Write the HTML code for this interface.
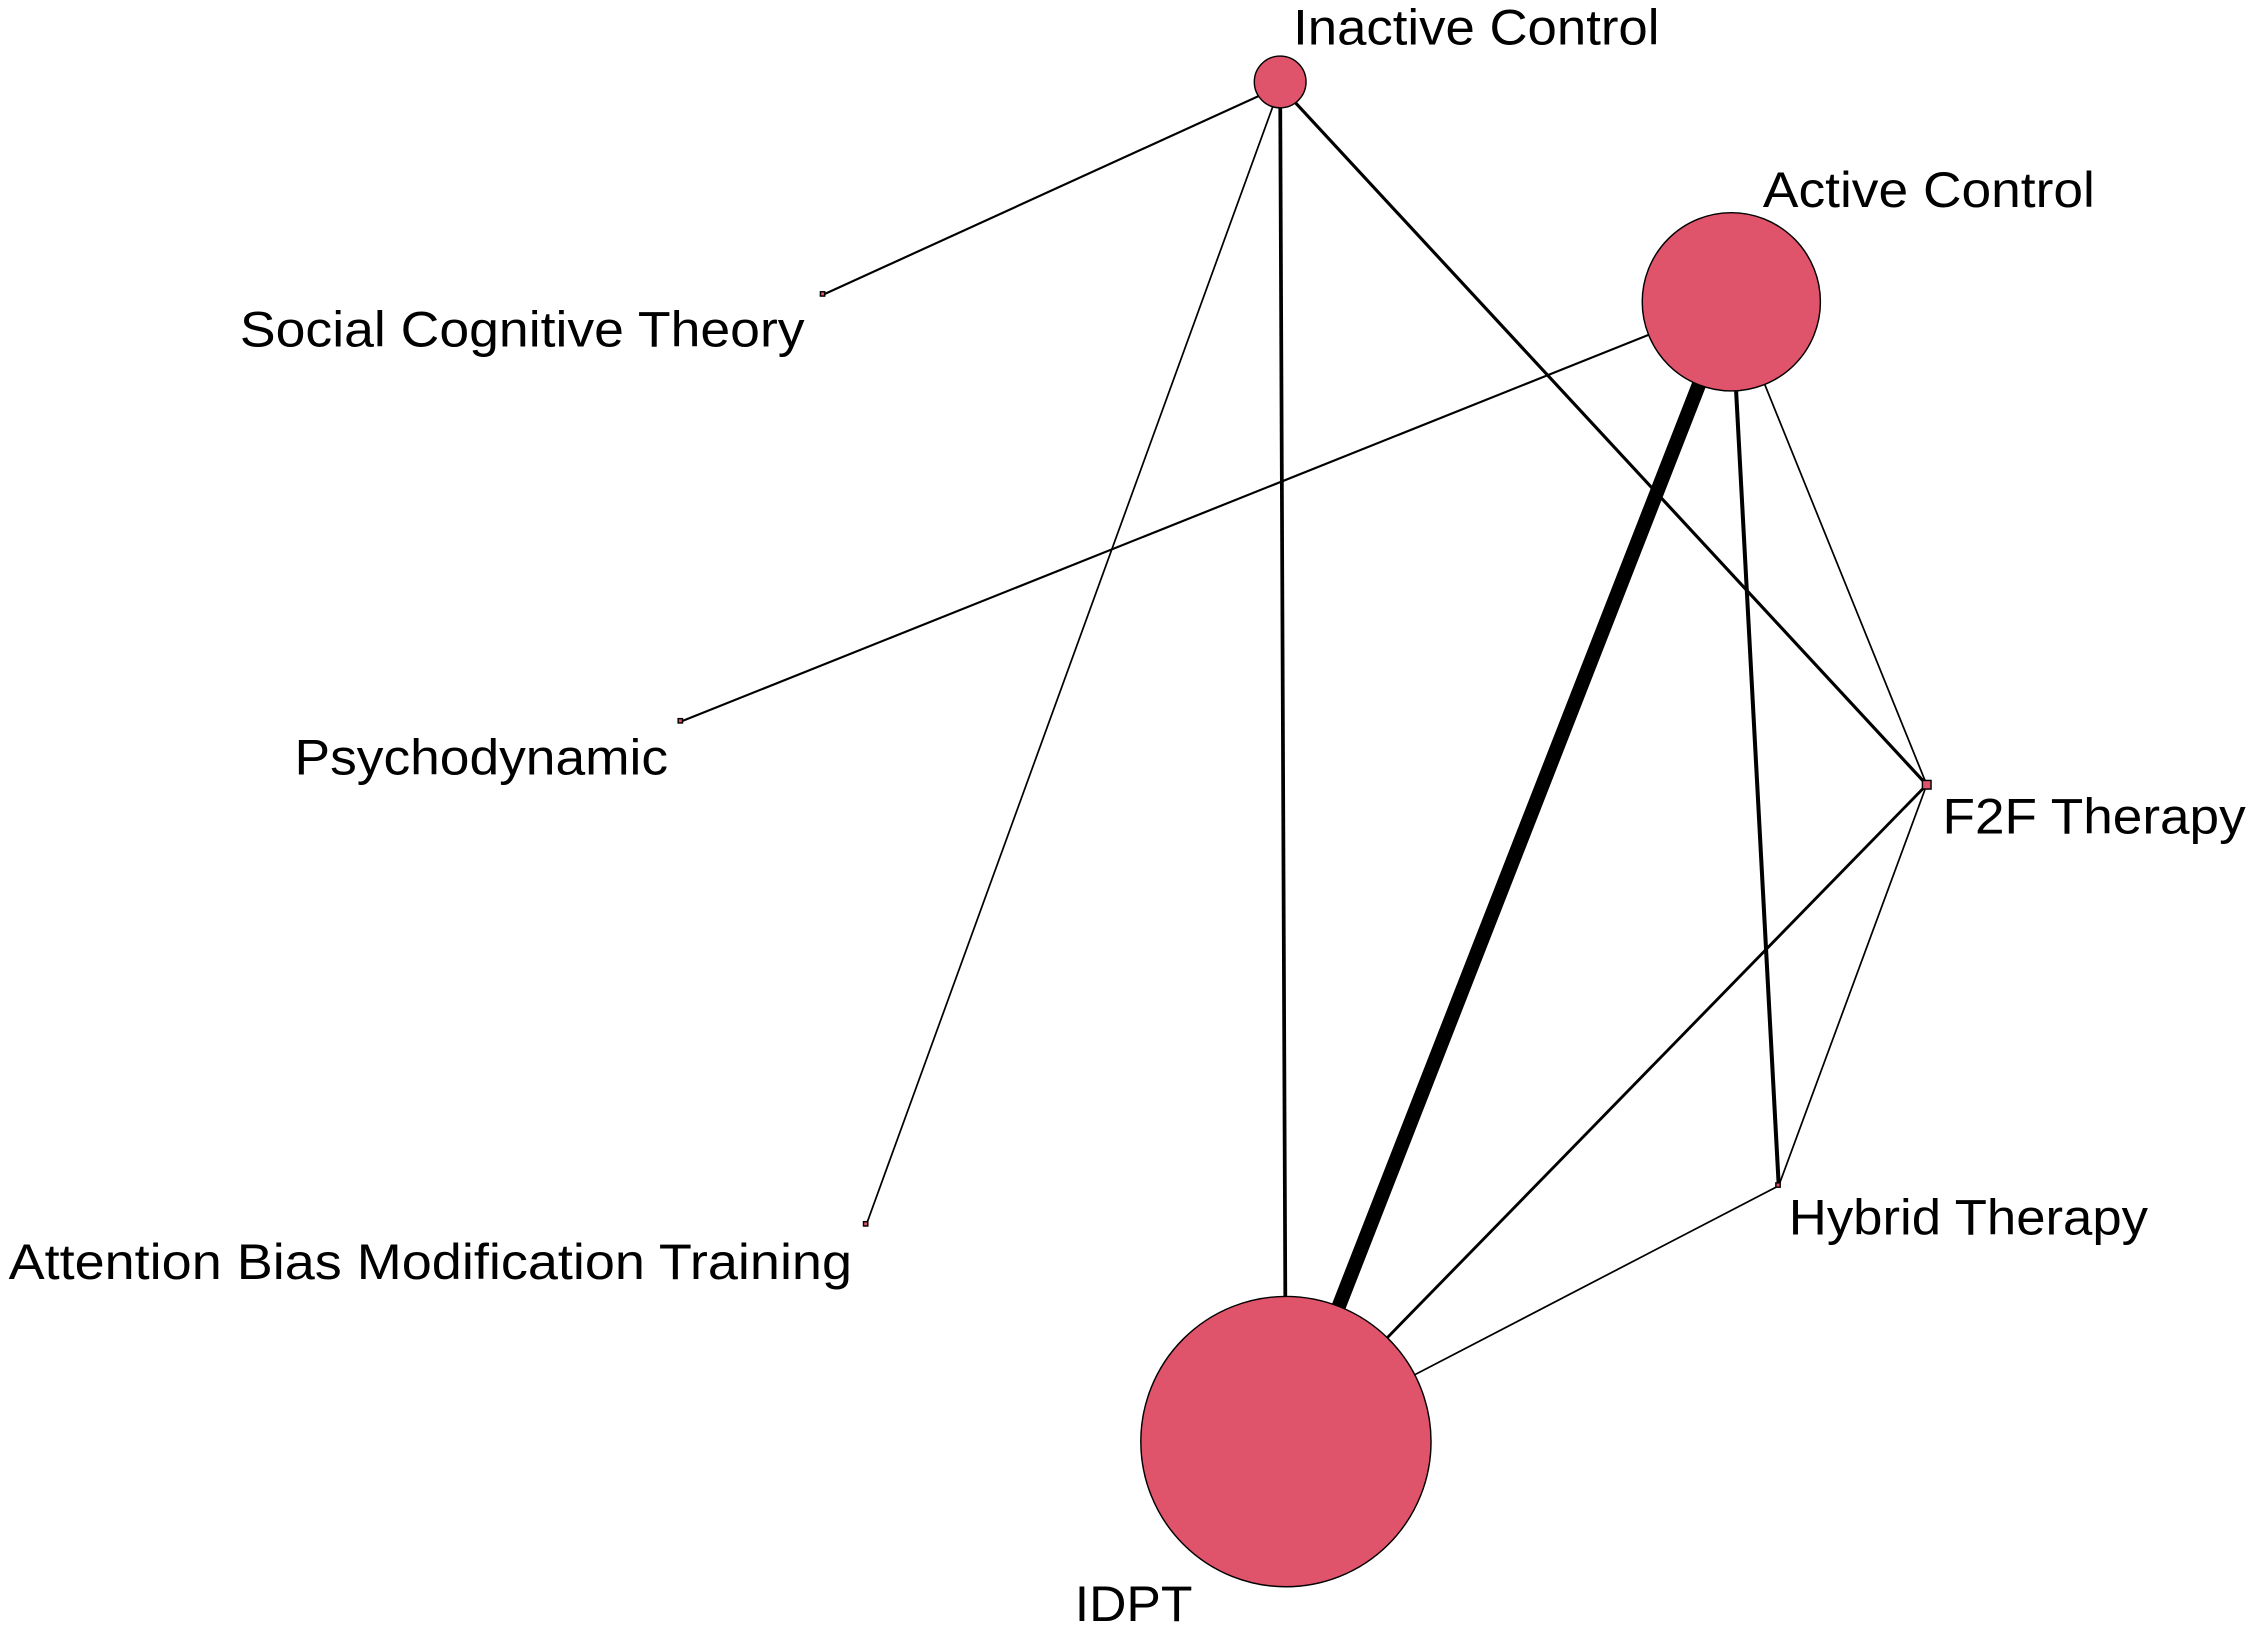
<!DOCTYPE html>
<html><head><meta charset="utf-8"><style>
html,body{margin:0;padding:0;background:#fff;}
svg{display:block;}
text{font-family:"Liberation Sans",Arial,sans-serif;font-size:35px;fill:#000;}
</style></head><body>
<svg width="2250" height="1627" viewBox="0 0 1566 1132" preserveAspectRatio="none" xmlns="http://www.w3.org/2000/svg">
<rect width="1566" height="1132" fill="#fff"/>
<g stroke="#000" stroke-linecap="butt" fill="none">
<line x1="891" y1="60" x2="573" y2="205" stroke-width="1.5"/>
<line x1="891" y1="60" x2="603" y2="852" stroke-width="1.2"/>
<line x1="891" y1="60" x2="895" y2="1003" stroke-width="2.6"/>
<line x1="891" y1="60" x2="1341" y2="546" stroke-width="2.2"/>
<line x1="1205" y1="210" x2="474" y2="502" stroke-width="1.5"/>
<line x1="1205" y1="210" x2="895" y2="1003" stroke-width="10"/>
<line x1="1205" y1="210" x2="1238" y2="825" stroke-width="2.8"/>
<line x1="1205" y1="210" x2="1341" y2="546" stroke-width="1.2"/>
<line x1="1341" y1="546" x2="895" y2="1003" stroke-width="2"/>
<line x1="1341" y1="546" x2="1238" y2="825" stroke-width="1.2"/>
<line x1="1238" y1="825" x2="895" y2="1003" stroke-width="1.2"/>
</g>
<g fill="#DF536B" stroke="#000" stroke-width="1">
<circle cx="891" cy="57" r="18"/>
<circle cx="1205" cy="210" r="62"/>
<circle cx="895" cy="1003" r="101"/>
<rect x="1338" y="543" width="6" height="6"/>
<rect x="1236" y="823" width="3" height="3"/>
<rect x="571" y="203" width="3" height="3"/>
<rect x="472" y="500" width="3" height="3"/>
<rect x="601" y="850" width="3" height="3"/>
</g>
<text x="900" y="31" textLength="255" lengthAdjust="spacingAndGlyphs">Inactive Control</text>
<text x="1227" y="144" textLength="231" lengthAdjust="spacingAndGlyphs">Active Control</text>
<text x="167" y="241" textLength="393" lengthAdjust="spacingAndGlyphs">Social Cognitive Theory</text>
<text x="205" y="539" textLength="260" lengthAdjust="spacingAndGlyphs">Psychodynamic</text>
<text x="1352" y="580" textLength="211" lengthAdjust="spacingAndGlyphs">F2F Therapy</text>
<text x="6" y="890" textLength="587" lengthAdjust="spacingAndGlyphs">Attention Bias Modification Training</text>
<text x="1245" y="859" textLength="250" lengthAdjust="spacingAndGlyphs">Hybrid Therapy</text>
<text x="748" y="1128" textLength="82" lengthAdjust="spacingAndGlyphs">IDPT</text>
</svg>
</body></html>
